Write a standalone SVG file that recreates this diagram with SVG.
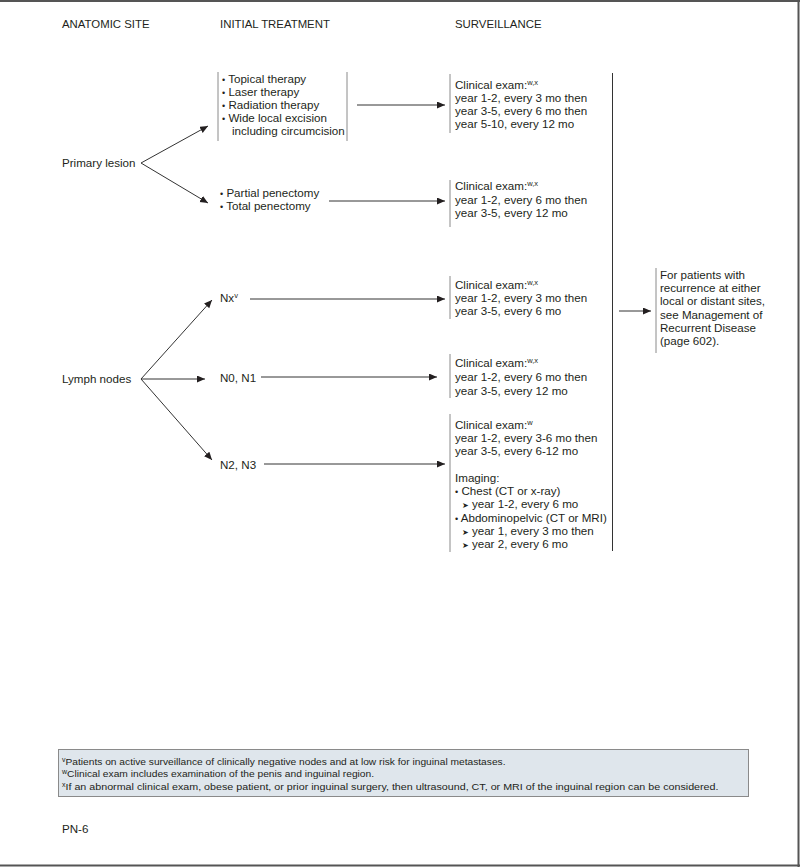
<svg xmlns="http://www.w3.org/2000/svg" width="800" height="867" viewBox="0 0 800 867">
<style>
text{font-family:"Liberation Sans",Arial,"DejaVu Sans",sans-serif;fill:#231f20;font-size:11.6px}
.hd{font-size:11.4px}
.sup{font-size:7.5px}
.fn{font-size:9px}
.fsup{font-size:7px}
.br{stroke:#8a8a8a;stroke-width:1;fill:none}
.ln{stroke:#333;stroke-width:1;fill:none}
.ar{stroke:#333;stroke-width:1;fill:none;marker-end:url(#ah)}
.sym{font-family:"DejaVu Sans",sans-serif;font-size:8px}
</style>
<defs>
<marker id="ah" markerUnits="userSpaceOnUse" markerWidth="9" markerHeight="8" refX="8" refY="3.5" orient="auto">
<path d="M0,0 L8,3.5 L0,7 z" fill="#231f20"/>
</marker>
</defs>
<rect x="0" y="0" width="800" height="867" fill="#fff"/>
<g id="frame">
<line x1="0" y1="1" x2="800" y2="1" stroke="#555" stroke-width="2"/>
<line x1="798.5" y1="0" x2="798.5" y2="867" stroke="#555" stroke-width="2"/>
<line x1="0" y1="865.5" x2="800" y2="865.5" stroke="#555" stroke-width="2"/>
</g>
<g id="headers">
<text class="hd" x="62" y="28">ANATOMIC SITE</text>
<text class="hd" x="220" y="28">INITIAL TREATMENT</text>
<text class="hd" x="455" y="28">SURVEILLANCE</text>
</g>
<g id="primary-lesion"><text x="62" y="167">Primary lesion</text></g>
<g id="tx-local">
<line class="br" x1="218" y1="72" x2="218" y2="141"/>
<line class="br" x1="347" y1="72" x2="347" y2="141"/>
<text x="222" y="83"><tspan font-size="9">•</tspan> Topical therapy</text>
<text x="222" y="96"><tspan font-size="9">•</tspan> Laser therapy</text>
<text x="222" y="109"><tspan font-size="9">•</tspan> Radiation therapy</text>
<text x="222" y="122"><tspan font-size="9">•</tspan> Wide local excision</text>
<text x="232" y="135">including circumcision</text>
</g>
<g id="tx-penectomy">
<text x="220" y="197"><tspan font-size="9">•</tspan> Partial penectomy</text>
<text x="220" y="210"><tspan font-size="9">•</tspan> Total penectomy</text>
</g>
<g id="surv-local">
<line class="br" x1="450" y1="74" x2="450" y2="133"/>
<text x="455" y="89">Clinical exam:<tspan class="sup" dy="-4">w,x</tspan></text>
<text x="455" y="102">year 1-2, every 3 mo then</text>
<text x="455" y="115">year 3-5, every 6 mo then</text>
<text x="455" y="128">year 5-10, every 12 mo</text>
</g>
<g id="surv-penectomy">
<line class="br" x1="450" y1="180" x2="450" y2="227"/>
<text x="455" y="190">Clinical exam:<tspan class="sup" dy="-4">w,x</tspan></text>
<text x="455" y="204">year 1-2, every 6 mo then</text>
<text x="455" y="217">year 3-5, every 12 mo</text>
</g>
<g id="lymph-nodes"><text x="62" y="383">Lymph nodes</text></g>
<g id="nx"><text x="220" y="302">Nx<tspan class="sup" dy="-4">v</tspan></text></g>
<g id="n0n1"><text x="220" y="382">N0, N1</text></g>
<g id="n2n3"><text x="220" y="469">N2, N3</text></g>
<g id="surv-nx">
<line class="br" x1="450" y1="276" x2="450" y2="319"/>
<text x="455" y="289">Clinical exam:<tspan class="sup" dy="-4">w,x</tspan></text>
<text x="455" y="302">year 1-2, every 3 mo then</text>
<text x="455" y="315">year 3-5, every 6 mo</text>
</g>
<g id="surv-n0n1">
<line class="br" x1="450" y1="354" x2="450" y2="398"/>
<text x="455" y="367">Clinical exam:<tspan class="sup" dy="-4">w,x</tspan></text>
<text x="455" y="381">year 1-2, every 6 mo then</text>
<text x="455" y="395">year 3-5, every 12 mo</text>
</g>
<g id="surv-n2n3">
<line class="br" x1="450" y1="414" x2="450" y2="552"/>
<text x="455" y="429">Clinical exam:<tspan class="sup" dy="-4">w</tspan></text>
<text x="455" y="442">year 1-2, every 3-6 mo then</text>
<text x="455" y="455">year 3-5, every 6-12 mo</text>
<text x="455" y="482">Imaging:</text>
<text x="455" y="495"><tspan font-size="9">•</tspan> Chest (CT or x-ray)</text>
<text x="462" y="508"><tspan class="sym">➤</tspan> year 1-2, every 6 mo</text>
<text x="455" y="522"><tspan font-size="9">•</tspan> Abdominopelvic (CT or MRI)</text>
<text x="462" y="535"><tspan class="sym">➤</tspan> year 1, every 3 mo then</text>
<text x="462" y="548"><tspan class="sym">➤</tspan> year 2, every 6 mo</text>
</g>
<g id="recurrence">
<line class="br" x1="656" y1="268" x2="656" y2="353"/>
<text x="660" y="279">For patients with</text>
<text x="660" y="292">recurrence at either</text>
<text x="660" y="305">local or distant sites,</text>
<text x="660" y="319">see Management of</text>
<text x="660" y="332">Recurrent Disease</text>
<text x="660" y="345">(page 602).</text>
</g>
<g id="connectors">
<line class="ar" x1="141" y1="163" x2="208" y2="126"/>
<line class="ar" x1="141" y1="163" x2="208" y2="203"/>
<line class="ar" x1="357" y1="105" x2="445" y2="105"/>
<line class="ar" x1="329" y1="201" x2="445" y2="201"/>
<line class="ar" x1="141" y1="379" x2="212" y2="300"/>
<line class="ar" x1="141" y1="379" x2="205" y2="379"/>
<line class="ar" x1="141" y1="379" x2="212" y2="460"/>
<line class="ar" x1="250" y1="299" x2="445" y2="299"/>
<line class="ar" x1="261" y1="377" x2="437" y2="377"/>
<line class="ar" x1="264" y1="464" x2="445" y2="464"/>
<line class="ln" x1="612.5" y1="73" x2="612.5" y2="551"/>
<line class="ar" x1="619" y1="311" x2="651" y2="311"/>
</g>
<g id="footnotes">
<rect x="58.5" y="749.5" width="690" height="47" fill="#dfe6ec" stroke="#8a8a8a" stroke-width="1"/>
<text class="fn" x="62" y="765"><tspan class="fsup" dy="-3">v</tspan><tspan dy="3" textLength="440" lengthAdjust="spacingAndGlyphs">Patients on active surveillance of clinically negative nodes and at low risk for inguinal metastases.</tspan></text>
<text class="fn" x="62" y="777"><tspan class="fsup" dy="-3">w</tspan><tspan dy="3" textLength="307" lengthAdjust="spacingAndGlyphs">Clinical exam includes examination of the penis and inguinal region.</tspan></text>
<text class="fn" x="62" y="790"><tspan class="fsup" dy="-3">x</tspan><tspan dy="3" textLength="653" lengthAdjust="spacingAndGlyphs">If an abnormal clinical exam, obese patient, or prior inguinal surgery, then ultrasound, CT, or MRI of the inguinal region can be considered.</tspan></text>
</g>
<g id="page-label"><text x="62" y="833">PN-6</text></g>
</svg>
